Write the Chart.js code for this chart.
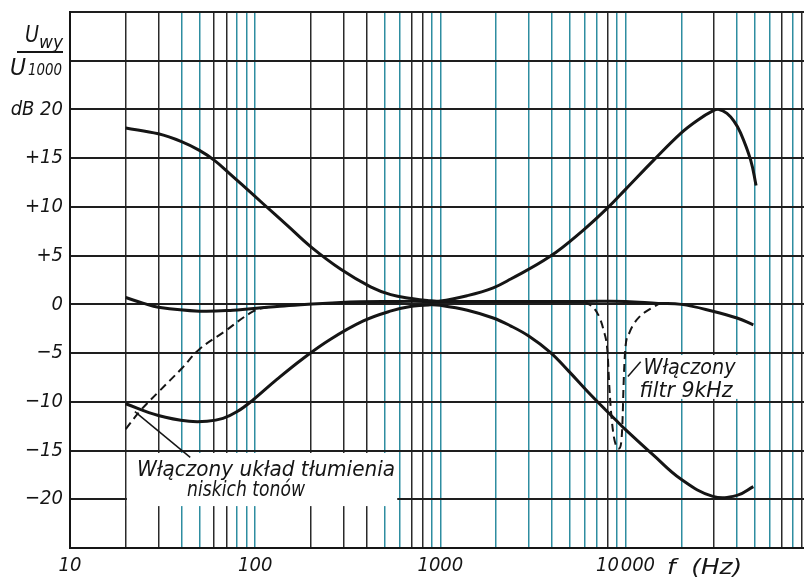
<!DOCTYPE html>
<html>
<head>
<meta charset="utf-8">
<title>Charakterystyka regulacji barwy</title>
<script src="https://cdn.jsdelivr.net/npm/chart.js@4.4.1/dist/chart.umd.min.js"></script>
<style>
  html, body { margin: 0; padding: 0; background: #fff; }
  canvas { display: block; }
</style>
</head>
<body>
<canvas id="toneChart" width="804" height="580"></canvas>
<script>
// Tone control response, U_wy / U_1000 in dB against frequency (log scale)

// vertical grid: 1..9 in every decade
const decades = [10, 100, 1000, 10000];
const gridSteps = [1, 2, 3, 4, 5, 6, 7, 8, 9];
// lines that came out dark in the print, the rest are teal
const darkGrid = [20, 30, 60, 70, 200, 300, 400, 700, 800, 8000, 30000, 70000, 90000];

const xLabelValues = [10, 100, 1000, 10000];
const xLabelTexts = ['10', '100', '1000', '10\u200a000'];

const yLabelValues = [20, 15, 10, 5, 0, -5, -10, -15, -20];
const yLabelTexts = ['dB 20', '+15', '+10', '+5', '0', '\u22125', '\u221210', '\u221215', '\u221220'];

// bass and treble fully raised
const boostFreq = [20, 30, 40, 50, 60, 73, 90, 110, 150, 200, 290, 420, 540, 700, 850, 1000, 1400, 1930, 2400, 3900, 5900, 8000, 10000, 14200, 20000, 24500, 29600, 32000, 35300, 38500, 41800, 47400, 50700];
const boostDb = [18.1, 17.5, 16.7, 15.8, 14.8, 13.4, 11.85, 10.35, 8.05, 5.9, 3.6, 1.8, 1.0, 0.6, 0.4, 0.35, 0.9, 1.7, 2.6, 4.9, 7.6, 9.9, 11.8, 14.8, 17.6, 18.9, 19.85, 20.0, 19.6, 18.8, 17.6, 14.8, 12.2];

// bass and treble fully cut
const cutFreq = [20, 30, 44, 55, 67, 80, 96, 131, 180, 254, 384, 536, 700, 880, 1000, 1400, 1930, 2390, 3000, 3910, 4960, 6500, 9000, 10000, 14200, 19800, 29600, 40000, 49000];
const cutDb = [-10.2, -11.4, -12.0, -12.0, -11.7, -11.0, -9.9, -7.7, -5.6, -3.6, -1.7, -0.7, -0.2, -0.05, -0.1, -0.6, -1.4, -2.2, -3.25, -4.9, -6.9, -9.3, -12.0, -12.85, -15.5, -17.9, -19.7, -19.6, -18.7];

// controls in the middle position
const flatFreq = [20, 25, 30, 50, 76, 116, 136, 290, 585, 1000, 3000, 6000, 10000, 15000, 20000, 29600, 40000, 49000];
const flatDb = [0.7, 0.1, -0.3, -0.7, -0.6, -0.3, -0.2, 0.2, 0.3, 0.3, 0.3, 0.3, 0.3, 0.1, 0.0, -0.7, -1.4, -2.1];

// low tone attenuation switched on (dashed)
const lowCutFreq = [20, 24, 30, 40, 50, 67, 98, 120];
const lowCutDb = [-12.8, -10.9, -9.0, -6.6, -4.6, -2.9, -0.7, -0.25];

// 9 kHz filter switched on (dashed)
const notchFreq = [6000, 7000, 7600, 8000, 8150, 8350, 8650, 9200, 9500, 9650, 9750, 9850, 10000, 10500, 11000, 12000, 13000, 15300];
const notchDb = [0.3, -0.8, -2.6, -5.0, -8.0, -11.0, -13.6, -14.8, -14.0, -11.5, -8.5, -6.3, -4.3, -2.9, -2.1, -1.2, -0.7, 0.1];

const FONT = "'DejaVu Sans Condensed', 'DejaVu Sans', sans-serif";
const INK = '#151515';
const TEAL = 'rgba(35, 135, 155, 0.95)';

// notes on the drawing, placed in chart units (Hz, dB)
const noteBoxes = [
  { f0: 20.3, f1: 585, db0: -15.25, db1: -20.7 },
  { f0: 10600, f1: 44600, db0: -5.2, db1: -9.7 },
];
const noteTexts = [
  { text: 'Włączony układ tłumienia', f: 23, db: -17.65, width: 258 },
  { text: 'niskich tonów', f: 42.9, db: -19.7, width: 118 },
  { text: 'Włączony', f: 12500, db: -7.14, width: 92 },
  { text: 'filtr 9kHz', f: 11900, db: -9.49, width: 93 },
];
const leaders = [
  { f0: 22.4, db0: -11.0, f1: 44.6, db1: -15.7 },
  { f0: 12070, db0: -5.9, f1: 10300, db1: -7.4 },
];

function points(freqs, dbs) {
  return freqs.map((f, i) => ({ x: f, y: dbs[i] }));
}

function gridTicks() {
  const ticks = [];
  decades.forEach((d) => gridSteps.forEach((s) => ticks.push({ value: d * s })));
  return ticks;
}

// squeeze or stretch text to the width it has on the original drawing
function fitText(ctx, text, x, y, width) {
  const w = ctx.measureText(text).width;
  ctx.save();
  ctx.translate(x, y);
  ctx.scale(width / w, 1);
  ctx.fillText(text, 0, 0);
  ctx.restore();
}

const notesPlugin = {
  id: 'notes',
  beforeDatasetsDraw(chart) {
    const { ctx, scales } = chart;
    ctx.save();
    ctx.fillStyle = '#fff';
    noteBoxes.forEach((b) => {
      const x0 = scales.x.getPixelForValue(b.f0);
      const x1 = scales.x.getPixelForValue(b.f1);
      const y0 = scales.y.getPixelForValue(b.db0);
      const y1 = scales.y.getPixelForValue(b.db1);
      ctx.fillRect(x0, y0, x1 - x0, y1 - y0);
    });
    ctx.restore();
  },
  afterDatasetsDraw(chart) {
    const { ctx, scales, chartArea } = chart;
    ctx.save();
    ctx.fillStyle = INK;
    ctx.strokeStyle = INK;
    ctx.textBaseline = 'alphabetic';
    ctx.textAlign = 'left';

    ctx.font = 'italic 22px ' + FONT;
    noteTexts.forEach((n) => {
      fitText(ctx, n.text, scales.x.getPixelForValue(n.f), scales.y.getPixelForValue(n.db), n.width);
    });

    ctx.lineWidth = 1.5;
    leaders.forEach((l) => {
      ctx.beginPath();
      ctx.moveTo(scales.x.getPixelForValue(l.f0), scales.y.getPixelForValue(l.db0));
      ctx.lineTo(scales.x.getPixelForValue(l.f1), scales.y.getPixelForValue(l.db1));
      ctx.stroke();
    });

    // axis titles
    const left = chartArea.left;
    ctx.font = 'italic 23px ' + FONT;
    fitText(ctx, 'U', left - 45, 42, 14);
    fitText(ctx, 'U', left - 60, 75, 16);
    ctx.font = 'italic 17px ' + FONT;
    fitText(ctx, 'wy', left - 31, 48, 24);
    ctx.font = 'italic 15px ' + FONT;
    fitText(ctx, '1000', left - 42, 75, 34);
    ctx.lineWidth = 2;
    ctx.beginPath();
    ctx.moveTo(left - 53, 52);
    ctx.lineTo(left - 7, 52);
    ctx.stroke();

    ctx.font = 'italic 22px ' + FONT;
    fitText(ctx, 'f  (Hz)', 667, 574, 75);
    ctx.restore();
  },
};

function lineSet(freqs, dbs, dashed, mode) {
  return {
    data: points(freqs, dbs),
    borderColor: INK,
    borderWidth: dashed ? 2 : 3,
    borderDash: dashed ? [8, 5] : [],
    pointRadius: 0,
    tension: 0.4,
    cubicInterpolationMode: mode,
    fill: false,
  };
}

document.addEventListener('DOMContentLoaded', () => {
  const ctx = document.getElementById('toneChart').getContext('2d');
  new Chart(ctx, {
    type: 'line',
    data: {
      datasets: [
        lineSet(boostFreq, boostDb, false, 'default'),
        lineSet(cutFreq, cutDb, false, 'default'),
        lineSet(flatFreq, flatDb, false, 'default'),
        lineSet(lowCutFreq, lowCutDb, true, 'default'),
        lineSet(notchFreq, notchDb, true, 'monotone'),
      ],
    },
    options: {
      responsive: false,
      animation: false,
      layout: { padding: { top: 12, right: 0, left: 0, bottom: 0 } },
      plugins: {
        legend: { display: false },
        tooltip: { enabled: false },
      },
      scales: {
        x: {
          type: 'logarithmic',
          min: 10,
          max: 92000,
          afterBuildTicks: (scale) => { scale.ticks = gridTicks(); },
          afterFit: (scale) => {
            scale.height = 32;
            scale.paddingLeft = 0;
            scale.paddingRight = 0;
          },
          ticks: {
            autoSkip: false,
            maxRotation: 0,
            padding: 6,
            color: INK,
            font: { family: FONT, size: 20, style: 'italic' },
            callback: (value) => {
              const i = xLabelValues.indexOf(value);
              return i >= 0 ? xLabelTexts[i] : '';
            },
          },
          grid: {
            drawTicks: false,
            lineWidth: 1.5,
            color: (c) => (c.tick && darkGrid.includes(c.tick.value) ? '#2a2a2a' : TEAL),
          },
          border: { display: true, color: INK, width: 2 },
        },
        y: {
          min: -25,
          max: 30,
          afterFit: (scale) => {
            scale.width = 70;
            scale.paddingTop = 0;
            scale.paddingBottom = 0;
          },
          ticks: {
            stepSize: 5,
            padding: 7,
            color: INK,
            font: { family: FONT, size: 20, style: 'italic' },
            callback: (value) => {
              const i = yLabelValues.indexOf(value);
              return i >= 0 ? yLabelTexts[i] : '';
            },
          },
          grid: {
            drawTicks: false,
            lineWidth: 2,
            color: '#1e1e1e',
          },
          border: { display: true, color: INK, width: 2 },
        },
      },
    },
    plugins: [notesPlugin],
  });
});
</script>
</body>
</html>
